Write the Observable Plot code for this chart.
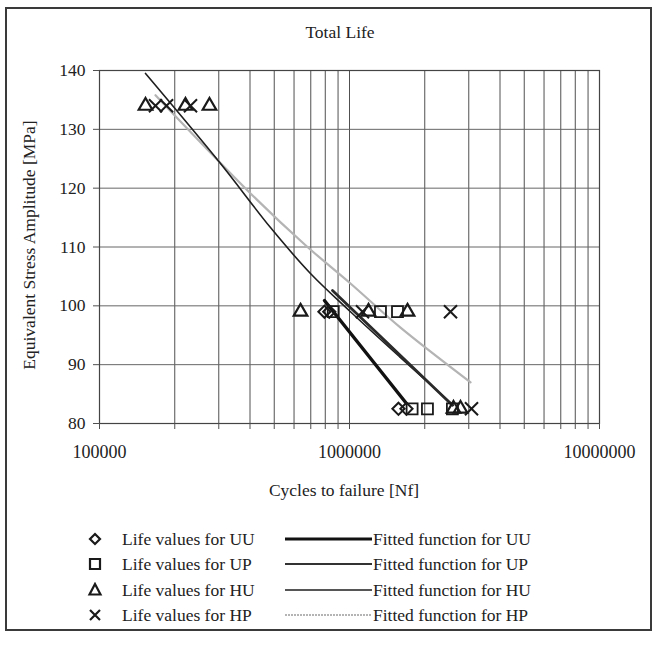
<!DOCTYPE html>
<html>
<head>
<meta charset="utf-8">
<script src="https://cdn.jsdelivr.net/npm/d3@7"></script>
<script src="https://cdn.jsdelivr.net/npm/@observablehq/plot@0.6"></script>
<style>
  body { margin: 0; background: #fff; font-family: "Liberation Serif", "Times New Roman", serif; color: #222; }
  #wrap { position: relative; width: 657px; height: 648px; overflow: hidden; }
  #chart { position: absolute; left: 0; top: 0; }
  #border { position: absolute; left: 5px; top: 7px; width: 647px; height: 624px; border: 2px solid #3a3a3a; box-sizing: border-box; pointer-events: none; }
  .txt { position: absolute; font-size: 17.5px; white-space: nowrap; line-height: 1; }
  #title { left: 340px; top: 33px; transform: translate(-50%, -50%); }
  #ylabel { left: 30px; top: 245px; transform: translate(-50%, -50%) rotate(-90deg); }
  #xlabel { left: 344px; top: 491px; transform: translate(-50%, -50%); }
  .leg { position: absolute; display: flex; align-items: center; font-size: 17.5px; white-space: nowrap; }
  .leg svg { display: block; }
</style>
</head>
<body>
<div id="wrap">
  <div id="chart"></div>
  <div id="border"></div>
  <div class="txt" id="title">Total Life</div>
  <div class="txt" id="ylabel">Equivalent Stress Amplitude [MPa]</div>
  <div class="txt" id="xlabel">Cycles to failure [Nf]</div>
  <div id="legend"></div>
</div>
<script>
// ---- data ----
const series = ["UU", "UP", "HU", "HP"];

// life values (cycles, stress amplitude)
const uuN = [794000, 830000, 1570000, 1690000];
const uuS = [99, 99, 82.5, 82.5];
const upN = [861000, 1330000, 1556000, 1780000, 2050000, 2580000];
const upS = [99, 99, 99, 82.5, 82.5, 82.5];
const huN = [152800, 220800, 275400, 637000, 1191000, 1706000, 2606000, 2780000];
const huS = [134, 134, 134, 99, 99, 99, 82.5, 82.5];
const hpN = [167500, 185400, 231200, 1127000, 2535000, 3076000];
const hpS = [134, 134, 134, 99, 99, 82.5];

// fitted functions
const uuFitN = [794000, 1690000];
const uuFitS = [100.9, 83.4];
const upFitN = [855000, 2580000];
const upFitS = [102.6, 83.1];
const huFitN = [152800, 304800, 483000, 698000, 1009000, 1600000, 2606000];
const huFitS = [139.5, 124.2, 113.3, 105.5, 99.0, 91.2, 83.1];
const hpFitN = [167500, 402000, 667000, 1009000, 1600000, 3050000];
const hpFitS = [135.8, 119.1, 110.3, 103.8, 96.3, 87.0];

// axes
const yTicks = [80, 90, 100, 110, 120, 130, 140];
const xMajor = [100000, 1000000, 10000000];
const xMajorLabels = ["100000", "1000000", "10000000"];

// ---- build ----
const pts = (N, S) => N.map((n, i) => ({n, s: S[i]}));
const xAll = [];
for (const p of [1e5, 1e6]) for (let k = 1; k <= 9; k++) xAll.push(k * p);
xAll.push(1e7);
const labelOf = new Map(xMajor.map((v, i) => [v, xMajorLabels[i]]));

const grid = "#505050";
const chart = Plot.plot({
  width: 657,
  height: 648,
  marginLeft: 99,
  marginRight: 58,
  marginTop: 70,
  marginBottom: 225,
  x: {type: "log", domain: [1e5, 1e7]},
  y: {domain: [80, 140]},
  style: {fontFamily: "Liberation Serif, serif", fontSize: "17.5px", background: "transparent", color: "#222"},
  marks: [
    Plot.gridX(xAll, {stroke: grid, strokeOpacity: 1, strokeWidth: 1}),
    Plot.gridY(yTicks, {stroke: "#666", strokeOpacity: 1, strokeWidth: 1}),
    Plot.frame({stroke: "#444", strokeWidth: 1.2}),
    Plot.axisX(xAll, {tickSize: 6, tickPadding: 16, stroke: grid, tickFormat: d => labelOf.get(d) ?? "", fill: "#222", fontSize: 18, label: null}),
    Plot.axisY(yTicks, {tickSize: 6, tickPadding: 8, stroke: grid, fill: "#222", fontSize: 17.5, label: null}),
    // fitted functions
    Plot.line(pts(hpFitN, hpFitS), {x: "n", y: "s", stroke: "#b4b4b4", strokeWidth: 2.2, curve: "catmull-rom"}),
    Plot.line(pts(huFitN, huFitS), {x: "n", y: "s", stroke: "#1e1e1e", strokeWidth: 1.6, curve: "catmull-rom"}),
    Plot.line(pts(upFitN, upFitS), {x: "n", y: "s", stroke: "#2a2a2a", strokeWidth: 2.8}),
    Plot.line(pts(uuFitN, uuFitS), {x: "n", y: "s", stroke: "#111", strokeWidth: 3.4}),
    // life values
    Plot.dot(pts(uuN, uuS), {x: "n", y: "s", symbol: "diamond2", r: 5.5, stroke: "#1a1a1a", strokeWidth: 2, fill: "none"}),
    Plot.dot(pts(upN, upS), {x: "n", y: "s", symbol: "square2", r: 7, stroke: "#1a1a1a", strokeWidth: 1.8, fill: "none"}),
    Plot.dot(pts(huN, huS), {x: "n", y: "s", symbol: "triangle2", r: 6.5, stroke: "#1a1a1a", strokeWidth: 2.2, fill: "none"}),
    Plot.dot(pts(hpN, hpS), {x: "n", y: "s", symbol: "times", r: 6, stroke: "#1a1a1a", strokeWidth: 2, fill: "none"})
  ]
});
document.getElementById("chart").appendChild(chart);

// ---- legend ----
const legendRowsY = [539, 564, 590, 615];
const symbolPaths = {
  UU: "M0,-5L5,0L0,5L-5,0Z",
  UP: "M-5,-5H5V5H-5Z",
  HU: "M0,-6L5.5,4.5H-5.5Z",
  HP: "M-5,-5L5,5M-5,5L5,-5"
};
const lineStyles = {
  UU: {stroke: "#111", width: 3},
  UP: {stroke: "#333", width: 2.2},
  HU: {stroke: "#1e1e1e", width: 1.6},
  HP: {stroke: "#b4b4b4", width: 2.2, dash: "2,1"}
};
const leg = document.getElementById("legend");
series.forEach((s, i) => {
  const y = legendRowsY[i];
  const a = document.createElement("div");
  a.className = "leg";
  a.style.left = "87px";
  a.style.top = (y - 10) + "px";
  a.style.height = "20px";
  a.innerHTML = `<svg width="16" height="16" viewBox="-8 -8 16 16"><path d="${symbolPaths[s]}" fill="none" stroke="#1a1a1a" stroke-width="2.2"/></svg><span style="margin-left:19px">Life values for ${s}</span>`;
  leg.appendChild(a);
  const b = document.createElement("div");
  b.className = "leg";
  b.style.left = "285px";
  b.style.top = (y - 10) + "px";
  b.style.height = "20px";
  const ls = lineStyles[s];
  b.innerHTML = `<svg width="87" height="10"><line x1="0" x2="87" y1="5" y2="5" stroke="${ls.stroke}" stroke-width="${ls.width}" ${ls.dash ? `stroke-dasharray="${ls.dash}"` : ""}/></svg><span style="margin-left:1px">Fitted function for ${s}</span>`;
  leg.appendChild(b);
});
</script>
</body>
</html>
